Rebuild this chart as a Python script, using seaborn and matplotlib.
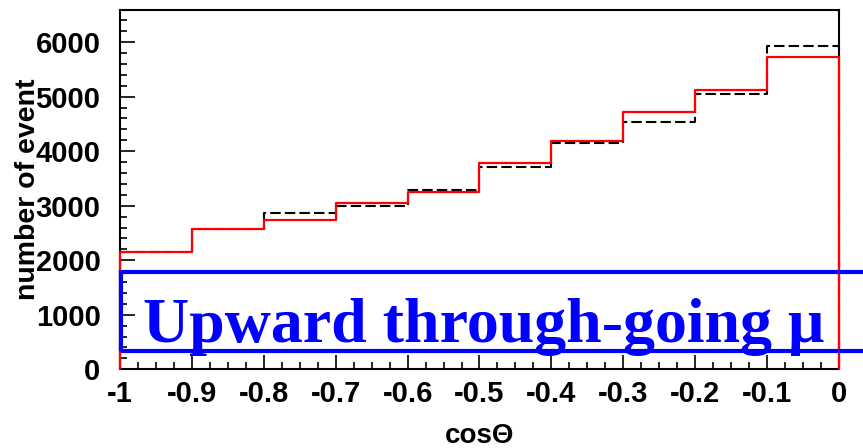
import matplotlib
matplotlib.use("Agg")
import matplotlib.pyplot as plt
import numpy as np
import pandas as pd
import seaborn as sns
from matplotlib.patches import Rectangle
from matplotlib.ticker import FixedLocator, MultipleLocator

# cos(theta) binning and event counts per bin
bin_edges = [-1.0, -0.9, -0.8, -0.7, -0.6, -0.5, -0.4, -0.3, -0.2, -0.1, 0.0]
red_counts = [2158, 2574, 2734, 3057, 3248, 3780, 4183, 4716, 5119, 5736]
dashed_counts = [2158, 2574, 2873, 2996, 3290, 3706, 4158, 4543, 5051, 5938]

x_ticks = [-1.0, -0.9, -0.8, -0.7, -0.6, -0.5, -0.4, -0.3, -0.2, -0.1, 0.0]
x_tick_labels = ["-1", "-0.9", "-0.8", "-0.7", "-0.6", "-0.5",
                 "-0.4", "-0.3", "-0.2", "-0.1", "0"]
y_ticks = [0, 1000, 2000, 3000, 4000, 5000, 6000]
y_tick_labels = ["0", "1000", "2000", "3000", "4000", "5000", "6000"]

x_title = "cosΘ"
y_title = "number of event"
banner = "Upward through-going μ"
banner_box = (-0.998, 336, 1785)   # left x, bottom y, top y


def hist_outline(edges, counts):
    """Step outline of a histogram that drops to zero at both ends."""
    xs, ys = [edges[0]], [0]
    for i, c in enumerate(counts):
        xs += [edges[i], edges[i + 1]]
        ys += [c, c]
    xs.append(edges[-1])
    ys.append(0)
    return pd.DataFrame({"x": xs, "y": ys})


sns.set_style("white")
plt.rcParams["font.family"] = ["Liberation Sans", "DejaVu Sans"]
plt.rcParams["font.weight"] = "bold"
plt.rcParams["text.color"] = "black"
plt.rcParams["axes.labelcolor"] = "black"
plt.rcParams["xtick.color"] = "black"
plt.rcParams["ytick.color"] = "black"

fig = plt.figure(figsize=(8.63, 4.48), dpi=100)
ax = fig.add_axes([0.139, 0.1757, 0.8332, 0.802])

dashed_df = hist_outline(bin_edges, dashed_counts)
red_df = hist_outline(bin_edges, red_counts)

sns.lineplot(data=dashed_df, x="x", y="y", sort=False, estimator=None,
             color="black", linewidth=1.5, linestyle=(0, (5, 2)), ax=ax,
             zorder=3, clip_on=False)
sns.lineplot(data=red_df, x="x", y="y", sort=False, estimator=None,
             color="#ff0000", linewidth=1.6, ax=ax, zorder=4, clip_on=False)

ax.set_xlim(-1.0, 0.0)
ax.set_ylim(0, 6590)

ax.xaxis.set_major_locator(FixedLocator(x_ticks))
ax.set_xticklabels(x_tick_labels, fontsize=21, fontweight="bold")
ax.xaxis.set_minor_locator(MultipleLocator(0.025))
ax.yaxis.set_major_locator(FixedLocator(y_ticks))
ax.set_yticklabels(y_tick_labels, fontsize=21, fontweight="bold")
ax.yaxis.set_minor_locator(MultipleLocator(200))

ax.tick_params(axis="both", which="both", direction="in",
               bottom=True, left=True, top=False, right=False,
               color="black", width=1.2, labelcolor="black")
ax.tick_params(axis="y", which="major", length=11, pad=14)
ax.tick_params(axis="y", which="minor", length=5)
ax.tick_params(axis="x", which="major", length=10, pad=8)
ax.tick_params(axis="x", which="minor", length=5)

for side in ["left", "right", "top", "bottom"]:
    ax.spines[side].set_visible(True)
    ax.spines[side].set_color("black")
    ax.spines[side].set_linewidth(1.5)

ax.set_xlabel(x_title, fontsize=20, fontweight="bold", color="black")
ax.xaxis.set_label_coords(0.5, -0.15)
ax.set_ylabel(y_title, fontsize=20.5, fontweight="bold", color="black")
ax.yaxis.set_label_coords(-0.11, 0.5)

left, bottom, top = banner_box
ax.add_patch(Rectangle((left, bottom), 1.1, top - bottom, fill=False,
                       edgecolor="#0000ff", linewidth=3, clip_on=False,
                       zorder=5))
ax.text(-0.968, 506, banner, color="#0000ff", fontsize=46,
        fontweight="bold", family=["Liberation Serif", "DejaVu Serif"],
        ha="left", va="baseline", zorder=6)

fig.savefig("out.png", dpi=100)
